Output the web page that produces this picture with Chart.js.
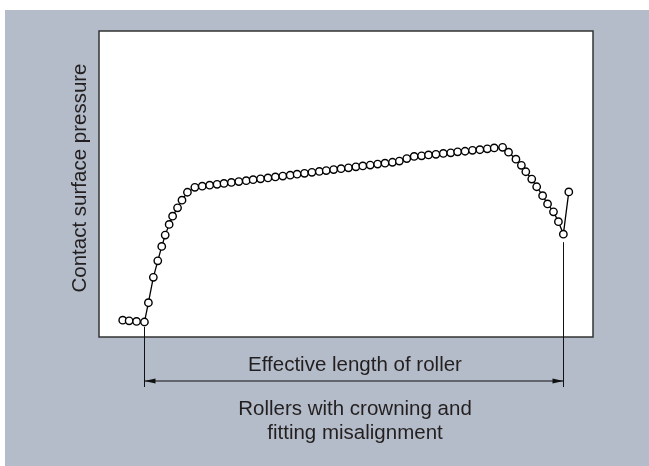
<!DOCTYPE html>
<html lang="en">
<head>
    <meta charset="UTF-8">
    <title>Contact surface pressure - roller</title>
    <script src="https://cdn.jsdelivr.net/npm/chart.js@4.4.0/dist/chart.umd.min.js"></script>
    <style>
        html, body {
            margin: 0;
            padding: 0;
            background: #ffffff;
        }
        #wrap {
            width: 649px;
            height: 466px;
            position: relative;
        }
    </style>
</head>
<body>
    <div id="wrap">
        <canvas id="pressureChart"></canvas>
    </div>

    <script>
        // position along the roller (0-100) and contact pressure (0-100)
        const positions = [
            4.8, 6.1, 7.6, 9.2,
            10.0, 11.0, 11.9, 12.7, 13.4, 14.2, 14.9, 15.9, 16.8, 17.9,
            19.4, 20.9, 22.4, 23.9, 25.3, 26.8, 28.3, 29.8, 31.2, 32.7,
            34.2, 35.7, 37.2, 38.7, 40.1, 41.6, 43.1, 44.6, 46.0, 47.5,
            49.0, 50.5, 52.0, 53.4, 54.9, 56.4, 57.9, 59.4, 60.8, 62.3,
            63.8, 65.3, 66.7, 68.2, 69.7, 71.2, 72.6, 74.1, 75.6, 77.1,
            78.6, 80.0, 81.7,
            82.9, 84.4, 85.5, 86.4, 87.6, 88.6, 89.8, 90.8, 92.0, 93.0, 94.0,
            95.1
        ];
        const pressures = [
            5.5, 5.3, 5.1, 4.9,
            11.2, 19.5, 24.9, 29.6, 33.3, 36.8, 39.5, 42.2, 44.7, 47.3,
            48.9, 49.3, 49.6, 49.9, 50.2, 50.5, 50.8, 51.1, 51.4, 51.7,
            52.0, 52.3, 52.6, 52.9, 53.2, 53.5, 53.8, 54.1, 54.4, 54.7,
            55.0, 55.3, 55.6, 55.9, 56.2, 56.5, 56.8, 57.1, 57.5, 58.3,
            59.0, 59.2, 59.5, 59.7, 60.0, 60.2, 60.5, 60.7, 61.0, 61.2,
            61.5, 61.8, 62.0,
            60.4, 58.1, 56.1, 54.0, 51.6, 49.1, 46.2, 43.5, 40.9, 37.7, 33.6,
            47.4
        ];

        // ends of the effective length (first contact point, last low point)
        const effectiveStart = 9.2;
        const effectiveEnd = 94.0;

        const yTitle = 'Contact surface pressure';
        const lengthLabel = 'Effective length of roller';
        const caption = ['Rollers with crowning and', 'fitting misalignment'];

        const points = positions.map((x, i) => ({ x: x, y: pressures[i] }));

        const textColor = '#231f20';
        const font = '20.5px "Liberation Sans", Arial, sans-serif';

        function arrowHead(ctx, x, y, dir) {
            ctx.beginPath();
            ctx.moveTo(x, y);
            ctx.lineTo(x - dir * 11, y - 2.6);
            ctx.lineTo(x - dir * 11, y + 2.6);
            ctx.closePath();
            ctx.fill();
        }

        const figurePlugin = {
            id: 'figure',
            beforeDraw(chart) {
                const ctx = chart.ctx;
                const a = chart.chartArea;
                ctx.save();
                ctx.fillStyle = '#b3bcc8';
                ctx.fillRect(5, 10, chart.width - 5, chart.height - 10);
                ctx.fillStyle = '#ffffff';
                ctx.fillRect(a.left, a.top, a.right - a.left, a.bottom - a.top);
                ctx.restore();
            },
            afterDraw(chart) {
                const ctx = chart.ctx;
                const a = chart.chartArea;
                const xs = chart.scales.x;
                const ys = chart.scales.y;
                ctx.save();

                // frame
                ctx.strokeStyle = '#333333';
                ctx.lineWidth = 1.5;
                ctx.strokeRect(a.left, a.top, a.right - a.left, a.bottom - a.top);

                // dimension lines
                const x1 = Math.round(xs.getPixelForValue(effectiveStart)) + 0.5;
                const x2 = Math.round(xs.getPixelForValue(effectiveEnd)) + 0.5;
                const lowEnd = ys.getPixelForValue(33.6) + 8;
                const firstPt = ys.getPixelForValue(4.9) + 5;
                const arrowY = 381;
                ctx.strokeStyle = '#111111';
                ctx.lineWidth = 1;
                ctx.beginPath();
                ctx.moveTo(x1, firstPt);
                ctx.lineTo(x1, 387);
                ctx.moveTo(x2, lowEnd);
                ctx.lineTo(x2, 387);
                ctx.moveTo(x1, arrowY);
                ctx.lineTo(x2, arrowY);
                ctx.stroke();
                ctx.fillStyle = '#111111';
                arrowHead(ctx, x1, arrowY, -1);
                arrowHead(ctx, x2, arrowY, 1);

                // texts
                ctx.fillStyle = textColor;
                ctx.font = font;
                ctx.textAlign = 'center';
                ctx.textBaseline = 'alphabetic';
                ctx.fillText(lengthLabel, 355, 371);
                ctx.fillText(caption[0], 355, 415);
                ctx.fillText(caption[1], 355, 439);

                ctx.translate(80, 178);
                ctx.rotate(-Math.PI / 2);
                ctx.textBaseline = 'middle';
                ctx.fillText(yTitle, 0, 0);
                ctx.restore();
            }
        };

        new Chart(document.getElementById('pressureChart'), {
            type: 'line',
            data: {
                datasets: [{
                    data: points,
                    borderColor: '#000000',
                    borderWidth: 1.3,
                    pointRadius: 3.7,
                    pointBorderWidth: 1.4,
                    pointBackgroundColor: '#ffffff',
                    pointBorderColor: '#000000',
                    tension: 0
                }]
            },
            options: {
                responsive: true,
                maintainAspectRatio: false,
                animation: false,
                layout: {
                    padding: { left: 99, top: 31, right: 56, bottom: 129 }
                },
                plugins: {
                    legend: { display: false },
                    tooltip: { enabled: false }
                },
                scales: {
                    x: { type: 'linear', min: 0, max: 100, display: false },
                    y: { min: 0, max: 100, display: false }
                }
            },
            plugins: [figurePlugin]
        });
    </script>
</body>
</html>
